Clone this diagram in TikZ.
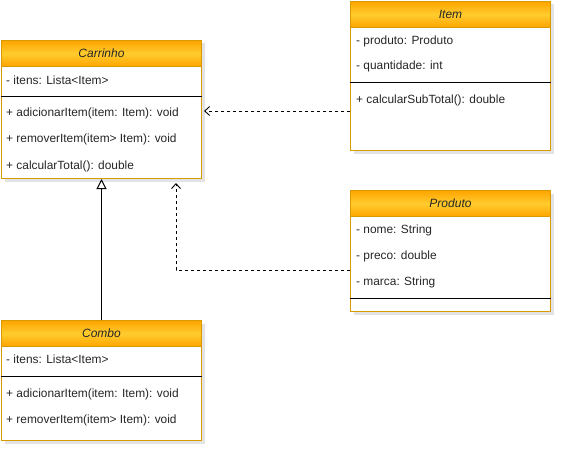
\documentclass[tikz,border=0pt]{standalone}
\usepackage{fontspec}
\setmainfont{Liberation Sans}
\usetikzlibrary{arrows.meta,shadows}
\definecolor{hdrOrange}{HTML}{FFA500}
\definecolor{hdrYellow}{HTML}{FFCB2E}
\definecolor{boxBorder}{HTML}{D79B00}
\begin{document}
\begin{tikzpicture}[x=1pt,y=-1pt,
  classbox/.style={draw=boxBorder, line width=1pt, fill=white, anchor=north west, inner sep=0pt, minimum width=200,
    drop shadow={shadow xshift=3pt, shadow yshift=-3pt, opacity=0.22, fill=gray}},
  header/.style={draw=boxBorder, line width=1pt, anchor=north west, inner sep=0pt, minimum width=200, minimum height=26,
    top color=hdrOrange, bottom color=hdrOrange, middle color=hdrYellow,
    font=\fontsize{12}{14}\selectfont\itshape, text=black!85},
  rowtext/.style={anchor=west, inner sep=0pt, font=\fontsize{11.9}{14}\selectfont, text=black!85},
  sepline/.style={line width=1pt, black},
  dep/.style={dash pattern=on 3pt off 3pt, line width=0.9pt, -{Straight Barb[length=5pt,width=9pt,line width=0.9pt]}},
  inh/.style={line width=1pt, -{Triangle[open,length=10pt,width=10pt,line width=1pt]}}
]
\useasboundingbox (0,0) rectangle (562,452);

% Carrinho
\node[classbox, minimum height=138] (carrinho) at (1,40) {};
\node[header] (carrinhoH) at (carrinho.north west) {Carrinho};
\node[rowtext] (c1) at (6,80) {- itens: Lista<Item>};
\draw[sepline] (carrinho.west |- 0,96) -- (carrinho.east |- 0,96);
\node[rowtext] (c2) at (6,113) {+ adicionarItem(item: Item): void};
\node[rowtext] (c3) at (6,139) {+ removerItem(item> Item): void};
\node[rowtext] (c4) at (6,166) {+ calcularTotal(): double};

% Item
\node[classbox, minimum height=149] (item) at (350,1) {};
\node[header] (itemH) at (item.north west) {Item};
\node[rowtext] (i1) at (356,41) {- produto: Produto};
\node[rowtext] (i2) at (356,66) {- quantidade: int};
\draw[sepline] (item.west |- 0,82) -- (item.east |- 0,82);
\node[rowtext] (i3) at (356,100) {+ calcularSubTotal(): double};

% Produto
\node[classbox, minimum height=121] (produto) at (350,190) {};
\node[header] (produtoH) at (produto.north west) {Produto};
\node[rowtext] (p1) at (356,230) {- nome: String};
\node[rowtext] (p2) at (356,256) {- preco: double};
\node[rowtext] (p3) at (356,282) {- marca: String};
\draw[sepline] (produto.west |- 0,298) -- (produto.east |- 0,298);

% Combo
\node[classbox, minimum height=120] (combo) at (1,320) {};
\node[header] (comboH) at (combo.north west) {Combo};
\node[rowtext] (k1) at (6,359) {- itens: Lista<Item>};
\draw[sepline] (combo.west |- 0,376) -- (combo.east |- 0,376);
\node[rowtext] (k2) at (6,394) {+ adicionarItem(item: Item): void};
\node[rowtext] (k3) at (6,420) {+ removerItem(item> Item): void};

% Connectors
\coordinate (depEnd1) at ([xshift=2pt]carrinho.east |- 0,111);
\draw[dep] (item.west |- 0,111) -- (depEnd1);
\coordinate (depEnd2) at ([yshift=-4pt]carrinho.south -| 176,0);
\draw[dep] (produto.west |- 0,270) -| (depEnd2);
\draw[inh] (combo.north) -- (carrinho.south);
\end{tikzpicture}
\end{document}
